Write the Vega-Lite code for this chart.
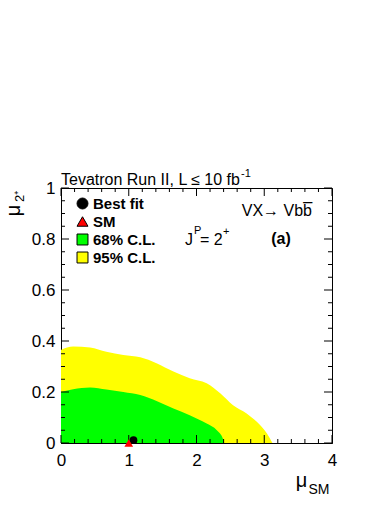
{
  "$schema": "https://vega.github.io/schema/vega-lite/v6.json",
  "autosize": "none",
  "width": 271,
  "height": 255,
  "padding": {"left": 61, "top": 188, "right": 58, "bottom": 62},
  "background": "white",
  "config": {
    "view": {"stroke": "black", "strokeWidth": 1},
    "font": "Liberation Sans",
    "axis": {
      "labelFont": "Liberation Sans", "titleFont": "Liberation Sans",
      "labelColor": "black", "titleColor": "black", "tickColor": "black", "domainColor": "black",
      "grid": false, "zindex": 1, "titleFontWeight": "normal", "tickWidth": 1, "domainWidth": 1, "labelFlush": false
    }
  },
  "datasets": {
    "cl95": [
      {"series": "95% C.L.", "mu_sm": 0, "mu_2p": 0.365},
      {"series": "95% C.L.", "mu_sm": 0.18, "mu_2p": 0.378},
      {"series": "95% C.L.", "mu_sm": 0.43, "mu_2p": 0.375},
      {"series": "95% C.L.", "mu_sm": 0.67, "mu_2p": 0.358},
      {"series": "95% C.L.", "mu_sm": 0.92, "mu_2p": 0.345},
      {"series": "95% C.L.", "mu_sm": 1.17, "mu_2p": 0.336},
      {"series": "95% C.L.", "mu_sm": 1.41, "mu_2p": 0.313},
      {"series": "95% C.L.", "mu_sm": 1.66, "mu_2p": 0.28},
      {"series": "95% C.L.", "mu_sm": 1.9, "mu_2p": 0.254},
      {"series": "95% C.L.", "mu_sm": 2.15, "mu_2p": 0.234},
      {"series": "95% C.L.", "mu_sm": 2.35, "mu_2p": 0.195},
      {"series": "95% C.L.", "mu_sm": 2.54, "mu_2p": 0.148},
      {"series": "95% C.L.", "mu_sm": 2.74, "mu_2p": 0.116},
      {"series": "95% C.L.", "mu_sm": 2.89, "mu_2p": 0.083},
      {"series": "95% C.L.", "mu_sm": 3.04, "mu_2p": 0.037},
      {"series": "95% C.L.", "mu_sm": 3.12, "mu_2p": 0}
    ],
    "cl68": [
      {"series": "68% C.L.", "mu_sm": 0, "mu_2p": 0.2},
      {"series": "68% C.L.", "mu_sm": 0.18, "mu_2p": 0.211},
      {"series": "68% C.L.", "mu_sm": 0.43, "mu_2p": 0.218},
      {"series": "68% C.L.", "mu_sm": 0.67, "mu_2p": 0.21},
      {"series": "68% C.L.", "mu_sm": 0.92, "mu_2p": 0.2},
      {"series": "68% C.L.", "mu_sm": 1.17, "mu_2p": 0.188},
      {"series": "68% C.L.", "mu_sm": 1.41, "mu_2p": 0.165},
      {"series": "68% C.L.", "mu_sm": 1.66, "mu_2p": 0.135},
      {"series": "68% C.L.", "mu_sm": 1.9, "mu_2p": 0.109},
      {"series": "68% C.L.", "mu_sm": 2.15, "mu_2p": 0.076},
      {"series": "68% C.L.", "mu_sm": 2.3, "mu_2p": 0.05},
      {"series": "68% C.L.", "mu_sm": 2.39, "mu_2p": 0.017},
      {"series": "68% C.L.", "mu_sm": 2.41, "mu_2p": 0}
    ],
    "fit": [{"series": "Best fit", "mu_sm": 1.07, "mu_2p": 0.011}],
    "sm": [{"series": "SM", "mu_sm": 1.0, "mu_2p": 0}],
    "xmajor": [{"tick": 0}, {"tick": 1}, {"tick": 2}, {"tick": 3}, {"tick": 4}],
    "xminor": [{"tick": 0.2}, {"tick": 0.4}, {"tick": 0.6}, {"tick": 0.8}, {"tick": 1.2}, {"tick": 1.4}, {"tick": 1.6}, {"tick": 1.8}, {"tick": 2.2}, {"tick": 2.4}, {"tick": 2.6}, {"tick": 2.8}, {"tick": 3.2}, {"tick": 3.4}, {"tick": 3.6}, {"tick": 3.8}],
    "ymajor": [{"tick": 0}, {"tick": 0.2}, {"tick": 0.4}, {"tick": 0.6}, {"tick": 0.8}, {"tick": 1}],
    "yminor": [{"tick": 0.05}, {"tick": 0.1}, {"tick": 0.15}, {"tick": 0.25}, {"tick": 0.3}, {"tick": 0.35}, {"tick": 0.45}, {"tick": 0.5}, {"tick": 0.55}, {"tick": 0.65}, {"tick": 0.7}, {"tick": 0.75}, {"tick": 0.85}, {"tick": 0.9}, {"tick": 0.95}]
  },
  "resolve": {"axis": {"x": "independent", "y": "independent"}},
  "layer": [
    {
      "data": {"name": "cl95"},
      "mark": {"type": "area", "interpolate": "monotone", "opacity": 1},
      "encoding": {
        "x": {"field": "mu_sm", "type": "quantitative",
          "scale": {"domain": [0, 4], "nice": false, "zero": false},
          "axis": {"orient": "bottom", "values": [0, 1, 2, 3, 4], "format": "~g", "ticks": false,
            "labelPadding": 9, "labelFontSize": 17, "title": "μ", "titleFontSize": 20,
            "titleX": 240, "titleY": 43, "titleAlign": "center", "titleBaseline": "alphabetic", "titleAngle": 0}},
        "y": {"field": "mu_2p", "type": "quantitative",
          "scale": {"domain": [0, 1], "nice": false, "zero": true},
          "axis": {"orient": "left", "values": [0, 0.2, 0.4, 0.6, 0.8, 1], "format": "~g", "ticks": false,
            "labelPadding": 6, "labelFontSize": 17, "title": "μ", "titleFontSize": 20, "titleAngle": 270,
            "titleX": -42, "titleY": 22, "titleAlign": "center", "titleBaseline": "alphabetic"}},
        "color": {"field": "series", "type": "nominal",
          "scale": {"domain": ["Best fit", "SM", "68% C.L.", "95% C.L."], "range": ["black", "red", "#00ff00", "#ffff00"]}}
      }
    },
    {
      "data": {"name": "cl68"},
      "mark": {"type": "area", "interpolate": "monotone", "opacity": 1},
      "encoding": {
        "x": {"field": "mu_sm", "type": "quantitative",
          "axis": {"orient": "bottom", "values": [], "ticks": false, "labels": false, "domain": false,
            "title": "SM", "titleFontSize": 14,
            "titleX": 247, "titleY": 50, "titleAlign": "left", "titleBaseline": "alphabetic", "titleAngle": 0}},
        "y": {"field": "mu_2p", "type": "quantitative",
          "axis": {"orient": "left", "values": [], "ticks": false, "labels": false, "domain": false,
            "title": "2⁺", "titleFontSize": 13, "titleAngle": 270,
            "titleX": -38, "titleY": 8, "titleAlign": "center", "titleBaseline": "alphabetic"}},
        "color": {"field": "series", "type": "nominal"}
      }
    },
    {
      "data": {"name": "xmajor"},
      "mark": {"type": "tick", "orient": "vertical", "size": 8, "thickness": 1, "color": "black", "opacity": 1, "yOffset": -4},
      "encoding": {
        "x": {"field": "tick", "type": "quantitative", "axis": null},
        "y": {"datum": 0, "type": "quantitative", "axis": null}
      }
    },
    {
      "data": {"name": "xmajor"},
      "mark": {"type": "tick", "orient": "vertical", "size": 8, "thickness": 1, "color": "black", "opacity": 1, "yOffset": 4},
      "encoding": {
        "x": {"field": "tick", "type": "quantitative", "axis": null},
        "y": {"datum": 1, "type": "quantitative", "axis": null}
      }
    },
    {
      "data": {"name": "xminor"},
      "mark": {"type": "tick", "orient": "vertical", "size": 4, "thickness": 1, "color": "black", "opacity": 1, "yOffset": -2},
      "encoding": {
        "x": {"field": "tick", "type": "quantitative", "axis": null},
        "y": {"datum": 0, "type": "quantitative", "axis": null}
      }
    },
    {
      "data": {"name": "xminor"},
      "mark": {"type": "tick", "orient": "vertical", "size": 4, "thickness": 1, "color": "black", "opacity": 1, "yOffset": 2},
      "encoding": {
        "x": {"field": "tick", "type": "quantitative", "axis": null},
        "y": {"datum": 1, "type": "quantitative", "axis": null}
      }
    },
    {
      "data": {"name": "ymajor"},
      "mark": {"type": "tick", "orient": "horizontal", "size": 8, "thickness": 1, "color": "black", "opacity": 1, "xOffset": 4},
      "encoding": {
        "y": {"field": "tick", "type": "quantitative", "axis": null},
        "x": {"datum": 0, "type": "quantitative", "axis": null}
      }
    },
    {
      "data": {"name": "ymajor"},
      "mark": {"type": "tick", "orient": "horizontal", "size": 8, "thickness": 1, "color": "black", "opacity": 1, "xOffset": -4},
      "encoding": {
        "y": {"field": "tick", "type": "quantitative", "axis": null},
        "x": {"datum": 4, "type": "quantitative", "axis": null}
      }
    },
    {
      "data": {"name": "yminor"},
      "mark": {"type": "tick", "orient": "horizontal", "size": 4, "thickness": 1, "color": "black", "opacity": 1, "xOffset": 2},
      "encoding": {
        "y": {"field": "tick", "type": "quantitative", "axis": null},
        "x": {"datum": 0, "type": "quantitative", "axis": null}
      }
    },
    {
      "data": {"name": "yminor"},
      "mark": {"type": "tick", "orient": "horizontal", "size": 4, "thickness": 1, "color": "black", "opacity": 1, "xOffset": -2},
      "encoding": {
        "y": {"field": "tick", "type": "quantitative", "axis": null},
        "x": {"datum": 4, "type": "quantitative", "axis": null}
      }
    },
    {
      "data": {"name": "fit"},
      "mark": {"type": "point", "filled": true, "opacity": 1},
      "encoding": {
        "x": {"field": "mu_sm", "type": "quantitative", "axis": null},
        "y": {"field": "mu_2p", "type": "quantitative", "axis": null},
        "color": {"field": "series", "type": "nominal",
          "legend": {"orient": "none", "legendX": 14, "legendY": 8, "padding": 0, "title": null,
            "labelFont": "Liberation Sans", "labelFontWeight": "bold", "labelFontSize": 15, "labelColor": "black",
            "labelOffset": 3, "rowPadding": 2, "symbolSize": 120, "symbolStrokeColor": "black", "symbolStrokeWidth": 1, "symbolOpacity": 1}},
        "shape": {"field": "series", "type": "nominal",
          "scale": {"domain": ["Best fit", "SM", "68% C.L.", "95% C.L."], "range": ["circle", "triangle-up", "square", "square"]},
          "legend": {"orient": "none", "legendX": 14, "legendY": 8, "padding": 0, "title": null,
            "labelFont": "Liberation Sans", "labelFontWeight": "bold", "labelFontSize": 15, "labelColor": "black",
            "labelOffset": 3, "rowPadding": 2, "symbolSize": 120, "symbolStrokeColor": "black", "symbolStrokeWidth": 1, "symbolOpacity": 1}},
        "size": {"value": 60}
      }
    },
    {
      "data": {"name": "sm"},
      "mark": {"type": "point", "filled": true, "shape": "triangle-up", "color": "red", "size": 75, "opacity": 1},
      "encoding": {
        "x": {"field": "mu_sm", "type": "quantitative", "axis": null},
        "y": {"field": "mu_2p", "type": "quantitative", "axis": null}
      }
    },
    {
      "data": {"values": [{"label": "Tevatron Run II, L ≤ 10 fb"}]},
      "mark": {"type": "text", "align": "left", "baseline": "alphabetic", "fontSize": 16, "color": "black", "dy": -3},
      "encoding": {
        "x": {"datum": 0, "type": "quantitative", "axis": null},
        "y": {"datum": 1, "type": "quantitative", "axis": null},
        "text": {"field": "label"}
      }
    },
    {
      "data": {"values": [{"label": "-1"}]},
      "mark": {"type": "text", "align": "left", "baseline": "alphabetic", "fontSize": 11, "color": "black", "dx": 180, "dy": -11},
      "encoding": {
        "x": {"datum": 0, "type": "quantitative", "axis": null},
        "y": {"datum": 1, "type": "quantitative", "axis": null},
        "text": {"field": "label"}
      }
    },
    {
      "data": {"values": [{"label": "VX→ Vbb̅"}]},
      "mark": {"type": "text", "align": "right", "baseline": "alphabetic", "fontSize": 16, "color": "black"},
      "encoding": {
        "x": {"datum": 3.705, "type": "quantitative", "axis": null},
        "y": {"datum": 0.89, "type": "quantitative", "axis": null},
        "text": {"field": "label"}
      }
    },
    {
      "data": {"values": [{"label": "(a)"}]},
      "mark": {"type": "text", "align": "center", "baseline": "alphabetic", "fontSize": 16, "fontWeight": "bold", "color": "black"},
      "encoding": {
        "x": {"datum": 3.247, "type": "quantitative", "axis": null},
        "y": {"datum": 0.78, "type": "quantitative", "axis": null},
        "text": {"field": "label"}
      }
    },
    {
      "data": {"values": [{"label": "J"}]},
      "mark": {"type": "text", "align": "left", "baseline": "alphabetic", "fontSize": 16, "color": "black"},
      "encoding": {
        "x": {"datum": 1.83, "type": "quantitative", "axis": null},
        "y": {"datum": 0.776, "type": "quantitative", "axis": null},
        "text": {"field": "label"}
      }
    },
    {
      "data": {"values": [{"label": "P"}]},
      "mark": {"type": "text", "align": "left", "baseline": "alphabetic", "fontSize": 11, "color": "black", "dx": 9, "dy": -11},
      "encoding": {
        "x": {"datum": 1.83, "type": "quantitative", "axis": null},
        "y": {"datum": 0.776, "type": "quantitative", "axis": null},
        "text": {"field": "label"}
      }
    },
    {
      "data": {"values": [{"label": "= 2"}]},
      "mark": {"type": "text", "align": "left", "baseline": "alphabetic", "fontSize": 16, "color": "black", "dx": 15},
      "encoding": {
        "x": {"datum": 1.83, "type": "quantitative", "axis": null},
        "y": {"datum": 0.776, "type": "quantitative", "axis": null},
        "text": {"field": "label"}
      }
    },
    {
      "data": {"values": [{"label": "+"}]},
      "mark": {"type": "text", "align": "left", "baseline": "alphabetic", "fontSize": 11, "color": "black", "dx": 38, "dy": -10},
      "encoding": {
        "x": {"datum": 1.83, "type": "quantitative", "axis": null},
        "y": {"datum": 0.776, "type": "quantitative", "axis": null},
        "text": {"field": "label"}
      }
    }
  ]
}
